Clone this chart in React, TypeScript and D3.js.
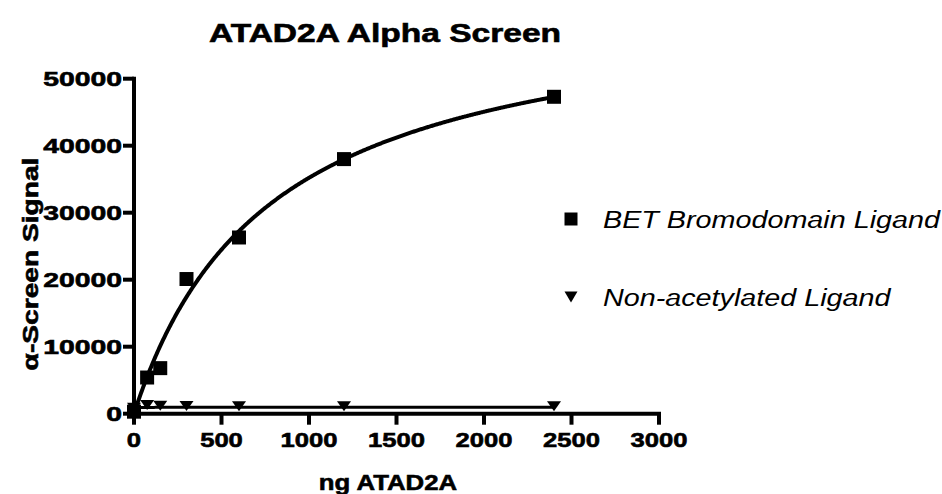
import { useEffect, useRef } from "react"
import * as d3 from "d3"

const doses = [0, 75, 150, 300, 600, 1200, 2400]
const betSignal = [300, 5400, 6800, 20100, 26300, 38000, 47300]
const nonAcSignal = [900, 1300, 1200, 1150, 1100, 1100, 1100]
const xTicks = [0, 500, 1000, 1500, 2000, 2500, 3000]
const yTicks = [0, 10000, 20000, 30000, 40000, 50000]
// one-site binding fits (Bmax, Kd) as drawn in the figure
const betFit = { bmax: 62600, kd: 778 }
const nonAcFit = { bmax: 960, kd: 2 }
const legendLabels = ["BET Bromodomain Ligand", "Non-acetylated Ligand"]

const FONT = "'Liberation Sans', Arial, Helvetica, sans-serif"

export default function App() {
  const svgRef = useRef<SVGSVGElement>(null)

  useEffect(() => {
    if (!svgRef.current) return
    const svg = d3.select(svgRef.current)
    svg.selectAll("*").remove()

    const x = d3.scaleLinear().domain([0, 3000]).range([134, 659])
    const y = d3.scaleLinear().domain([0, 50000]).range([413.7, 78.7])

    // the source font is drawn wide and heavy, so stretch along the text and add a thin outline
    const stretchText = (tx: number, ty: number, txt: string, size: number, anchor: string, sx: number, opts: { rotate?: number; italic?: boolean } = {}) => {
      svg
        .append("text")
        .attr("transform", `translate(${tx},${ty}) rotate(${opts.rotate ?? 0}) scale(${sx},1)`)
        .attr("text-anchor", anchor)
        .attr("font-family", FONT)
        .attr("font-size", size)
        .attr("font-weight", opts.italic ? "normal" : "bold")
        .attr("font-style", opts.italic ? "italic" : "normal")
        .attr("fill", "#000")
        .attr("stroke", opts.italic ? "none" : "#000")
        .attr("stroke-width", 0.6)
        .text(txt)
    }

    // title
    stretchText(385, 42, "ATAD2A Alpha Screen", 26, "middle", 1.29)

    // axes
    const axis = svg.append("g").attr("stroke", "#000").attr("stroke-width", 4).attr("fill", "none")
    axis.append("line").attr("x1", x(0)).attr("x2", x(0)).attr("y1", y(0) + 2).attr("y2", y(50000) - 2)
    axis.append("line").attr("x1", x(0) - 2).attr("x2", x(3000) + 2).attr("y1", y(0)).attr("y2", y(0))
    yTicks.forEach((t) => {
      axis.append("line").attr("x1", x(0) - 11).attr("x2", x(0)).attr("y1", y(t)).attr("y2", y(t))
      stretchText(x(0) - 12, y(t) + 7.5, String(t), 21, "end", 1.35)
    })
    xTicks.forEach((t) => {
      axis.append("line").attr("x1", x(t)).attr("x2", x(t)).attr("y1", y(0)).attr("y2", y(0) + 11)
      stretchText(x(t), 447, String(t), 21, "middle", 1.22)
    })

    // axis titles
    stretchText(388, 490, "ng ATAD2A", 23, "middle", 1.12)
    stretchText(38, 264, "\u03b1-Screen Signal", 22, "middle", 1.28, { rotate: -90 })

    // fitted curves
    const curveX = d3.range(0, 2400.1, 4)
    const line = d3
      .line<number[]>()
      .x((d) => x(d[0]))
      .y((d) => y(d[1]))
    const betCurve = curveX.map((v) => [v, (betFit.bmax * v) / (betFit.kd + v)])
    const nonAcCurve = curveX.map((v) => [v, (nonAcFit.bmax * v) / (nonAcFit.kd + v)])
    svg.append("path").datum(nonAcCurve).attr("fill", "none").attr("stroke", "#000").attr("stroke-width", 3).attr("d", line)
    svg.append("path").datum(betCurve).attr("fill", "none").attr("stroke", "#000").attr("stroke-width", 4).attr("d", line)

    // markers
    const square = (cx: number, cy: number, s: number) => `M${cx - s / 2},${cy - s / 2}h${s}v${s}h${-s}Z`
    const tri = (cx: number, cy: number, w: number, h: number) => `M${cx - w / 2},${cy - h / 2}L${cx + w / 2},${cy - h / 2}L${cx},${cy + h / 2}Z`

    svg
      .selectAll(".tri")
      .data(doses)
      .enter()
      .append("path")
      .attr("d", (d, i) => tri(x(d), y(nonAcSignal[i]), 14, 10))
      .attr("fill", "#000")

    svg
      .selectAll(".sq")
      .data(doses)
      .enter()
      .append("path")
      .attr("d", (d, i) => square(x(d), y(betSignal[i]), 14))
      .attr("fill", "#000")

    // legend
    svg.append("path").attr("d", square(571, 219, 13)).attr("fill", "#000")
    stretchText(603, 228, legendLabels[0], 23, "start", 1.25, { italic: true })
    svg.append("path").attr("d", tri(571, 297, 13, 11)).attr("fill", "#000")
    stretchText(603, 306, legendLabels[1], 23, "start", 1.25, { italic: true })
  }, [])

  return (
    <svg
      ref={svgRef}
      width={942}
      height={494}
      style={{ position: "absolute", left: 0, top: 0, background: "#fff" }}
    />
  )
}
